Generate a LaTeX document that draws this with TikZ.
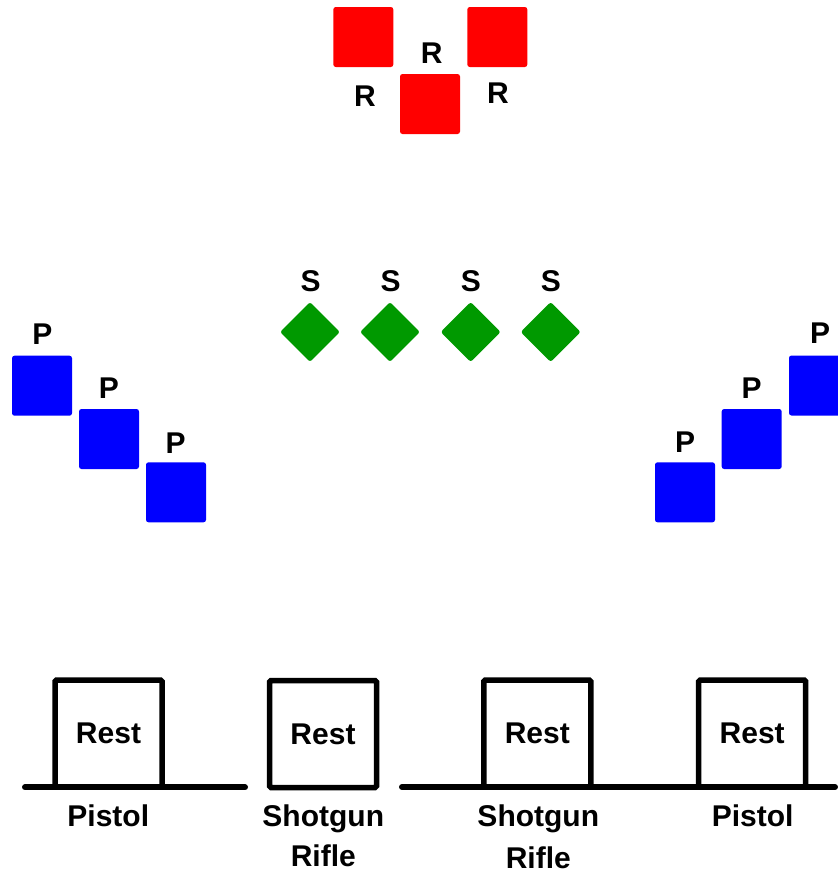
\documentclass[tikz,border=0pt]{standalone}
\usepackage{fontspec}
\setmainfont{Liberation Sans}
\definecolor{myred}{RGB}{255,0,0}
\definecolor{mygreen}{RGB}{0,153,0}
\definecolor{myblue}{RGB}{0,0,255}
\begin{document}
\begin{tikzpicture}[x=1pt,y=-1pt,
  lbl/.style={font=\fontsize{30}{36}\selectfont\bfseries, inner sep=0pt, anchor=base},
  redsq/.style={fill=myred, minimum size=60pt, inner sep=0pt, rounded corners=2.5pt},
  bluesq/.style={fill=myblue, minimum size=60pt, inner sep=0pt, rounded corners=2.5pt},
  greendia/.style={fill=mygreen, minimum size=42.4pt, inner sep=0pt, rotate=45, rounded corners=2.5pt},
  restbox/.style={draw=black, line width=5.5pt, minimum size=107pt, inner sep=0pt, rounded corners=1.5pt,
    font=\fontsize{30}{36}\selectfont\bfseries},
  ground/.style={draw=black, line width=6pt, line cap=round}
]
\useasboundingbox (0,0) rectangle (838,871);

% red squares
\node[redsq] (r1) at (363.3,37) {};
\node[redsq] (r2) at (497.3,37) {};
\node[redsq] (r3) at (430,104) {};
\node[lbl] (rl1) at (431.7,63.3) {R};
\node[lbl] (rl2) at (365,106.7) {R};
\node[lbl] (rl3) at (498,103.3) {R};

% green diamonds
\node[greendia] (s1) at (310,332) {};
\node[greendia] (s2) at (390,332) {};
\node[greendia] (s3) at (470.7,332) {};
\node[greendia] (s4) at (550.7,332) {};
\node[lbl] (sl1) at (310.7,291.5) {S};
\node[lbl] (sl2) at (390.7,291.5) {S};
\node[lbl] (sl3) at (471,291.5) {S};
\node[lbl] (sl4) at (551,291.5) {S};

% blue squares left
\node[bluesq] (p1) at (42,385.7) {};
\node[bluesq] (p2) at (109,439) {};
\node[bluesq] (p3) at (176,492.3) {};
\node[lbl] (pl1) at (42.3,344) {P};
\node[lbl] (pl2) at (109,398.3) {P};
\node[lbl] (pl3) at (175.7,453) {P};

% blue squares right
\node[bluesq] (p4) at (685,492.3) {};
\node[bluesq] (p5) at (751.7,439) {};
\node[bluesq] (p6) at (819,385.5) {};
\node[lbl] (pl4) at (685,452.7) {P};
\node[lbl] (pl5) at (751.7,398.3) {P};
\node[lbl] (pl6) at (820,343.3) {P};

% rest boxes
\node[restbox] (b1) at (108.5,733.5) {Rest};
\node[restbox] (b2) at (323,734) {Rest};
\node[restbox] (b3) at (537.3,733.5) {Rest};
\node[restbox] (b4) at (752.2,733.5) {Rest};

% ground lines
\coordinate (g1a) at (25,787.3);
\coordinate (g1b) at (245,787.3);
\coordinate (g2a) at (402,787);
\coordinate (g2b) at (835,787);
\draw[ground] (g1a) -- (g1b);
\draw[ground] (g2a) -- (g2b);

% station labels
\node[lbl] (t1) at (108.3,826.7) {Pistol};
\node[lbl] (t2) at (323.3,826) {Shotgun};
\node[lbl] (t3) at (323.3,866.7) {Rifle};
\node[lbl] (t4) at (538.3,826.7) {Shotgun};
\node[lbl] (t5) at (538.3,868.3) {Rifle};
\node[lbl] (t6) at (752.7,826.7) {Pistol};
\end{tikzpicture}
\end{document}
